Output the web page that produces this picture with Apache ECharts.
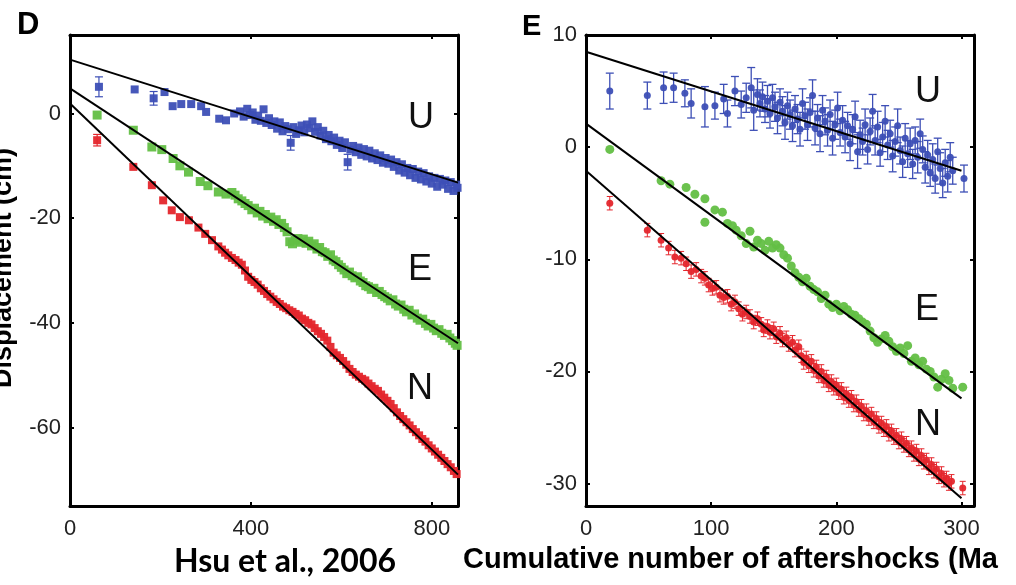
<!DOCTYPE html>
<html>
<head>
<meta charset="utf-8">
<script src="https://cdn.jsdelivr.net/npm/echarts@6/dist/echarts.min.js"></script>
<style>
html,body{margin:0;padding:0;background:#fff;overflow:hidden;}
#chart{width:1016px;height:585px;}
</style>
</head>
<body>
<div id="chart"></div>
<script>
// ---------- Tick labels ----------
const xTicksD = [0, 400, 800];
const yTicksD = [0, -20, -40, -60];
const xTicksE = [0, 100, 200, 300];
const yTicksE = [10, 0, -10, -20, -30];

// ---------- Panel D (x: cumulative aftershocks, y: displacement cm) ----------
const dU = [[64,5.1],[143,4.6],[185,2.9],[209,4.1],[227,1.4],[246,1.8],[268,1.8],[290,1.4],[301,0.3],[330,-1.0],[345,-1.3],[363,0.0],[376,0.4],[384,-0.6],[392,0.9],[398,-0.3],[404,0.2],[410,-1.2],[416,-0.4],[422,-1.4],[428,0.8],[434,-1.8],[440,-0.9],[446,-2.2],[452,-1.5],[458,-2.9],[464,-1.7],[470,-3.4],[476,-2.4],[482,-3.0],[488,-5.6],[494,-2.6],[500,-3.9],[506,-3.2],[512,-2.3],[518,-3.6],[524,-2.1],[530,-2.8],[536,-1.5],[542,-3.5],[548,-2.6],[554,-4.2],[560,-3.3],[566,-4.9],[572,-4.1],[578,-5.3],[584,-4.6],[590,-6.0],[596,-5.2],[602,-6.6],[608,-5.5],[614,-9.3],[620,-6.9],[626,-6.2],[632,-7.4],[638,-6.5],[644,-7.9],[650,-6.8],[656,-8.2],[662,-7.1],[668,-8.6],[674,-7.6],[680,-8.9],[686,-8.0],[692,-9.4],[698,-8.5],[704,-9.6],[710,-8.8],[716,-10.2],[722,-9.3],[728,-10.9],[734,-9.7],[740,-11.3],[746,-10.4],[752,-11.8],[758,-10.6],[764,-12.3],[770,-11.1],[776,-12.6],[782,-11.4],[788,-13.0],[794,-12.0],[800,-13.4],[806,-12.3],[812,-14.0],[818,-12.5],[824,-13.6],[830,-12.8],[836,-14.4],[842,-13.1],[848,-14.8],[854,-13.6],[857,-14.2]];
const dE = [[60,-0.3],[140,-3.2],[181,-6.4],[203,-6.9],[228,-8.6],[243,-10.0],[262,-11.2],[288,-13.0],[305,-13.8],[328,-15.0],[345,-15.4],[358,-15.1],[365,-15.6],[372,-16.3],[380,-16.7],[387,-17.2],[394,-17.6],[402,-18.4],[408,-18.1],[414,-19.0],[420,-18.7],[426,-19.6],[432,-19.3],[438,-20.1],[444,-19.8],[450,-20.6],[456,-20.3],[462,-21.2],[468,-21.0],[474,-21.8],[480,-22.6],[486,-24.5],[492,-24.9],[498,-24.2],[504,-23.9],[510,-24.6],[516,-24.0],[522,-24.8],[528,-24.4],[534,-25.3],[540,-24.9],[546,-25.9],[552,-25.6],[558,-26.4],[564,-26.6],[570,-27.3],[576,-27.0],[582,-28.0],[588,-28.3],[594,-28.9],[600,-29.4],[606,-29.9],[612,-30.6],[618,-30.3],[624,-31.0],[630,-31.4],[636,-31.2],[642,-32.0],[648,-32.3],[654,-32.9],[660,-33.1],[666,-33.6],[672,-33.4],[678,-34.2],[684,-34.0],[690,-34.6],[696,-35.0],[702,-35.3],[708,-35.8],[714,-35.6],[720,-36.4],[726,-36.8],[732,-36.6],[738,-37.4],[744,-37.9],[750,-37.6],[756,-38.5],[762,-38.3],[768,-39.1],[774,-39.5],[780,-39.3],[786,-40.1],[792,-40.6],[798,-40.3],[804,-41.0],[810,-41.5],[816,-41.3],[822,-42.0],[828,-42.4],[834,-42.2],[840,-42.9],[846,-43.4],[852,-43.9],[856,-44.3]];
const dN = [[60,-5.1],[140,-10.2],[181,-13.7],[206,-16.6],[225,-18.5],[243,-19.8],[263,-20.4],[284,-21.8],[299,-23.0],[314,-24.2],[328,-25.4],[336,-26.0],[343,-26.6],[350,-27.1],[358,-27.6],[366,-28.0],[373,-28.5],[380,-28.9],[387,-30.0],[394,-31.2],[401,-31.8],[408,-32.2],[415,-32.7],[422,-33.4],[429,-33.9],[436,-34.5],[443,-35.0],[450,-35.5],[457,-36.0],[464,-36.4],[471,-36.9],[478,-37.2],[485,-37.6],[492,-37.9],[499,-38.3],[506,-38.6],[513,-39.2],[520,-39.5],[527,-40.0],[534,-40.3],[541,-41.0],[548,-41.6],[555,-42.1],[562,-42.7],[569,-43.4],[576,-44.6],[583,-45.7],[590,-46.2],[597,-46.7],[604,-47.3],[611,-48.0],[618,-48.8],[625,-49.4],[632,-49.9],[639,-50.3],[646,-50.7],[653,-51.0],[660,-51.6],[667,-52.1],[674,-52.6],[681,-53.0],[688,-53.7],[695,-54.3],[702,-54.9],[709,-55.5],[716,-56.3],[723,-57.1],[730,-57.8],[737,-58.4],[744,-59.0],[751,-59.6],[758,-60.3],[765,-60.9],[772,-61.5],[779,-62.2],[786,-62.7],[793,-63.4],[800,-64.0],[807,-64.6],[814,-65.2],[821,-65.8],[828,-66.4],[835,-67.0],[842,-67.6],[849,-68.3],[855,-68.9]];
// error bars visible in panel D: [x, y, half-height]
const dErrU = [[64,5.1,1.9],[185,2.9,1.3],[488,-5.6,1.4],[614,-9.3,1.5]];
const dErrN = [[60,-5.1,1.1]];
// fitted lines (end points)
const dFitU = [[0,10.3],[858,-13.2]];
const dFitE = [[0,4.8],[858,-43.9]];
const dFitN = [[0,1.9],[858,-69.0]];

// ---------- Panel E ----------
// [x, y, error half-height]
const eU = [[19,5.0,1.6],[49,4.6,1.2],[62,5.3,1.4],[70,5.3,1.3],[79,4.8,1.2],[84,3.9,1.3],[95,3.6,1.8],[103,3.7,1.2],[110,4.3,1.3],[113,3.0,1.2],[119,5.0,1.3],[124,3.8,1.2],[128,4.4,1.3],[132,5.3,1.8],[134,3.3,1.8],[137,4.7,1.4],[139,3.9,1.2],[141,4.5,1.3],[143,3.4,1.2],[145,4.1,1.4],[147,3.0,1.3],[149,4.4,1.2],[151,3.6,1.3],[153,2.6,1.4],[155,4.0,1.2],[157,3.2,1.3],[159,2.2,1.5],[161,3.7,1.2],[163,2.9,1.3],[165,1.9,1.4],[167,3.4,1.2],[169,2.5,1.3],[171,1.6,1.5],[173,3.9,1.3],[175,2.8,1.2],[177,2.0,1.4],[179,3.1,1.3],[181,4.6,1.4],[183,1.7,1.5],[185,2.6,1.2],[187,1.2,1.6],[189,3.3,1.3],[191,2.3,1.2],[193,1.5,1.4],[195,2.9,1.3],[197,0.8,1.5],[199,2.0,1.3],[201,3.5,1.4],[203,1.3,1.2],[205,2.4,1.3],[207,0.9,1.4],[209,1.9,1.2],[211,0.3,1.5],[213,1.6,1.3],[215,2.7,1.4],[217,-0.4,1.5],[219,1.1,1.3],[221,0.5,1.2],[223,2.0,1.4],[225,-0.2,1.3],[227,1.4,1.2],[229,3.2,1.5],[231,0.6,1.3],[233,1.8,1.4],[235,-0.5,1.2],[237,0.9,1.3],[239,2.3,1.4],[241,0.2,1.3],[243,1.2,1.2],[245,-0.8,1.4],[247,0.5,1.3],[249,1.9,1.5],[251,-0.3,1.2],[253,-1.3,1.4],[255,0.8,1.3],[257,-0.6,1.2],[259,0.3,1.4],[261,-1.5,1.3],[263,0.6,1.2],[265,-0.9,1.4],[267,1.2,1.3],[269,-0.2,1.2],[271,-1.8,1.4],[273,-0.7,1.3],[275,-2.3,1.2],[277,-1.1,1.4],[279,-2.8,1.3],[281,-0.4,1.2],[283,-1.9,1.4],[285,-3.2,1.3],[287,-1.4,1.2],[289,-2.6,1.4],[291,-0.9,1.3],[293,-2.1,1.2],[302,-2.8,1.2]];
const eE = [[19,-0.2],[60,-3.0],[67,-3.3],[80,-3.6],[87,-4.2],[95,-4.6],[95,-6.7],[103,-5.6],[109,-5.8],[113,-6.8],[117,-7.0],[120,-7.4],[124,-7.9],[128,-8.6],[131,-7.5],[134,-8.9],[137,-8.3],[140,-8.6],[143,-9.2],[146,-8.4],[149,-9.0],[152,-8.7],[155,-9.0],[158,-9.6],[161,-9.9],[164,-10.6],[167,-11.2],[170,-11.6],[173,-12.0],[176,-11.7],[179,-12.4],[182,-12.7],[185,-12.9],[188,-13.5],[191,-13.2],[194,-14.0],[197,-14.3],[200,-14.0],[203,-14.6],[206,-14.2],[209,-14.5],[212,-14.9],[215,-15.0],[218,-15.3],[221,-15.6],[224,-15.8],[227,-16.4],[230,-17.0],[233,-17.4],[236,-17.1],[239,-16.8],[242,-17.3],[245,-17.8],[248,-18.2],[251,-17.9],[254,-18.4],[257,-17.7],[260,-19.1],[263,-18.8],[266,-19.4],[269,-19.1],[272,-19.8],[275,-20.0],[278,-20.5],[281,-21.4],[284,-20.7],[287,-20.2],[290,-20.8],[293,-21.5],[301,-21.4]];
const eN = [[19,-5.0],[49,-7.4],[60,-8.3],[66,-9.0],[71,-9.8],[76,-9.9],[80,-10.4],[84,-11.1],[88,-10.9],[92,-11.5],[95,-11.7],[98,-12.3],[101,-12.6],[104,-12.5],[107,-13.2],[110,-13.4],[113,-13.3],[116,-14.0],[119,-13.8],[122,-14.4],[125,-14.9],[128,-14.7],[131,-15.1],[134,-15.6],[137,-15.3],[140,-15.8],[142,-16.3],[145,-16.0],[147,-16.5],[150,-16.2],[152,-16.9],[155,-16.6],[157,-17.2],[160,-17.0],[162,-17.6],[165,-17.4],[167,-18.1],[170,-17.8],[172,-18.6],[174,-19.2],[176,-18.8],[178,-19.5],[180,-19.1],[182,-19.9],[184,-19.6],[186,-20.4],[188,-20.0],[190,-20.8],[192,-20.5],[194,-21.2],[196,-20.9],[198,-21.5],[200,-21.2],[202,-21.9],[204,-21.6],[206,-22.3],[208,-22.0],[210,-22.6],[212,-22.3],[214,-23.0],[216,-22.7],[218,-23.4],[220,-23.1],[222,-23.8],[224,-23.5],[226,-24.2],[228,-23.8],[230,-24.5],[232,-24.2],[234,-24.9],[236,-24.6],[238,-25.2],[240,-24.9],[242,-25.6],[244,-25.3],[246,-25.9],[248,-25.7],[250,-26.3],[252,-26.0],[254,-26.6],[256,-26.4],[258,-27.0],[260,-26.8],[262,-27.4],[264,-27.1],[266,-27.8],[268,-27.5],[270,-28.1],[272,-27.9],[274,-28.6],[276,-28.3],[278,-28.9],[280,-28.7],[282,-29.4],[284,-29.1],[286,-29.7],[288,-29.5],[290,-30.0],[292,-29.8],[301,-30.4]];
const eErrN = 0.6; // typical error half-height of N points in panel E
const eFitU = [[0,8.5],[300,-2.1]];
const eFitE = [[0,2.1],[300,-22.4]];
const eFitN = [[0,-2.1],[300,-31.3]];

// ---------- styling ----------
const BLUE = '#3d4fb6', GREEN = '#63bf45', RED = '#e4262c';
const TICKFONT = {fontFamily:'"Liberation Sans", Arial, sans-serif', fontSize:22, color:'#222'};

function errRender(color, capW, lw) {
  return function (params, api) {
    const x = api.value(0), y = api.value(1), e = api.value(2);
    const t = api.coord([x, y + e]);
    const b = api.coord([x, y - e]);
    const st = {stroke: color, lineWidth: lw};
    return {type:'group', children:[
      {type:'line', shape:{x1:t[0], y1:t[1], x2:b[0], y2:b[1]}, style:st},
      {type:'line', shape:{x1:t[0]-capW, y1:t[1], x2:t[0]+capW, y2:t[1]}, style:st},
      {type:'line', shape:{x1:b[0]-capW, y1:b[1], x2:b[0]+capW, y2:b[1]}, style:st}
    ]};
  };
}

function xAx(gi, pos, max, ticks, showLabel) {
  return {
    type:'value', gridIndex:gi, position:pos, min:0, max:max,
    axisLine:{show:true, onZero:false, lineStyle:{color:'#000', width:3}},
    axisTick:{show:true, inside:true, length:4, customValues:ticks, lineStyle:{color:'#000', width:2}},
    axisLabel:{show:showLabel, customValues:ticks, margin:12, ...TICKFONT},
    splitLine:{show:false}
  };
}
function yAx(gi, pos, min, max, ticks, showLabel) {
  return {
    type:'value', gridIndex:gi, position:pos, min:min, max:max,
    axisLine:{show:true, onZero:false, lineStyle:{color:'#000', width:3}},
    axisTick:{show:true, inside:true, length:4, customValues:ticks, lineStyle:{color:'#000', width:2}},
    axisLabel:{show:showLabel, customValues:ticks, margin:9, ...TICKFONT},
    splitLine:{show:false}
  };
}

const chart = echarts.init(document.getElementById('chart'), null, {renderer:'canvas'});

function scatter(xi, yi, data, color, symbol, size) {
  return {type:'scatter', xAxisIndex:xi, yAxisIndex:yi, data:data, symbol:symbol, symbolSize:size,
    itemStyle:{color:color, opacity:0.95}, encode:{x:0, y:1}, z:3, silent:true, animation:false};
}
function errs(xi, yi, data, color, capW, lw) {
  return {type:'custom', xAxisIndex:xi, yAxisIndex:yi, data:data, renderItem:errRender(color, capW, lw),
    encode:{x:0, y:[1]}, z:2, silent:true, animation:false};
}
function fit(xi, yi, data) {
  return {type:'line', xAxisIndex:xi, yAxisIndex:yi, data:data, symbol:'none',
    lineStyle:{color:'#000', width:2}, z:5, silent:true, animation:false};
}

const LBL = (x, y, t) => ({type:'text', x:x, y:y, style:{text:t, font:'36px "Liberation Sans", Arial, sans-serif', fill:'#111',
  textAlign:'center', textVerticalAlign:'middle', align:'center', verticalAlign:'middle'}});

const option = {
  backgroundColor:'#fff',
  animation:false,
  grid:[
    {left:70, top:35, width:388, height:471},
    {left:586, top:35, width:388, height:471}
  ],
  xAxis:[
    xAx(0,'bottom',858,xTicksD,true),
    xAx(0,'top',858,xTicksD,false),
    xAx(1,'bottom',310,xTicksE,true),
    xAx(1,'top',310,xTicksE,false)
  ],
  yAxis:[
    yAx(0,'left',-75,15,yTicksD,true),
    yAx(0,'right',-75,15,yTicksD,false),
    yAx(1,'left',-32,10,yTicksE,true),
    yAx(1,'right',-32,10,yTicksE,false)
  ],
  series:[
    errs(0,0,dErrU,BLUE,4,1.2),
    errs(0,0,dErrN,RED,4,1.2),
    scatter(0,0,dU,BLUE,'rect',8),
    scatter(0,0,dE,GREEN,'rect',9),
    scatter(0,0,dN,RED,'rect',8),
    fit(0,0,dFitU), fit(0,0,dFitE), fit(0,0,dFitN),

    errs(2,2,eU,BLUE,4,1.3),
    errs(2,2,eN.map(p => [p[0], p[1], eErrN]),RED,3,1),
    scatter(2,2,eU,BLUE,'circle',7),
    scatter(2,2,eE,GREEN,'circle',9),
    scatter(2,2,eN,RED,'circle',7),
    fit(2,2,eFitU), fit(2,2,eFitE), fit(2,2,eFitN)
  ],
  graphic:[
    {type:'text', left:17, top:10, style:{text:'D', font:'bold 31px "Liberation Sans", Arial, sans-serif', fill:'#000'}},
    {type:'text', left:522, top:12, style:{text:'E', font:'bold 29px "Liberation Sans", Arial, sans-serif', fill:'#000'}},
    {type:'text', x:4, y:268, rotation:Math.PI/2,
      style:{text:'Displacement (cm)', font:'bold 27px "Liberation Sans", Arial, sans-serif', fill:'#000',
        textAlign:'center', textVerticalAlign:'middle', align:'center', verticalAlign:'middle'}},
    LBL(421,118,'U'), LBL(420,270,'E'), LBL(420,389,'N'),
    LBL(928,92,'U'), LBL(927,310,'E'), LBL(928,425,'N'),
    {type:'text', x:285, y:562, style:{text:'Hsu et al., 2006', font:'bold 32px Lato, "Open Sans", sans-serif', fill:'#000', textAlign:'center', textVerticalAlign:'middle', align:'center', verticalAlign:'middle'}},
    {type:'text', x:463, y:560, style:{text:'Cumulative number of aftershocks (Ma', font:'bold 29px "Liberation Sans", Arial, sans-serif', fill:'#000', textAlign:'left', textVerticalAlign:'middle', align:'left', verticalAlign:'middle'}}
  ]
};
chart.setOption(option);
</script>
</body>
</html>
